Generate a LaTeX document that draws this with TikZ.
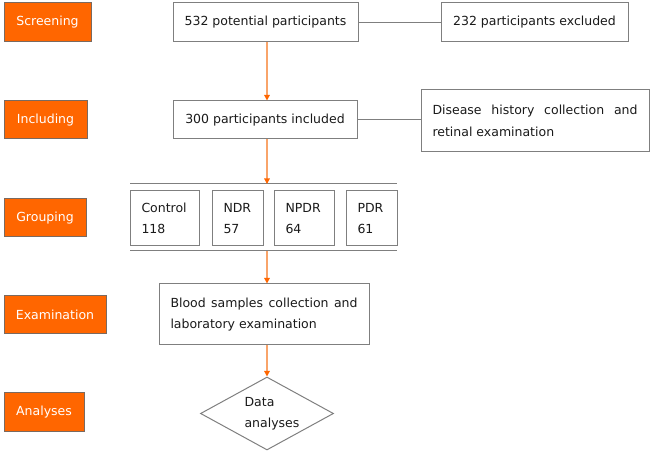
\documentclass[tikz,border=0pt]{standalone}
\usepackage{fontspec}
\setmainfont{DejaVu Sans}
\usetikzlibrary{shapes.geometric,arrows.meta}
\definecolor{stageorange}{HTML}{FF6600}
\definecolor{stageedge}{HTML}{7A6A60}
\definecolor{boxedge}{HTML}{7F7F7F}
\definecolor{txt}{HTML}{1A1A1A}
\definecolor{arrowline}{HTML}{F9A46A}
\tikzset{
  basefont/.style={font=\fontsize{12.5}{21.5}\selectfont},
  stage/.style={basefont, draw=stageedge, line width=1pt, fill=stageorange, text=white, inner sep=0pt},
  wbox/.style={basefont, draw=boxedge, line width=1pt, fill=white, text=txt, inner sep=0pt},
  gbox/.style={basefont, draw=boxedge, line width=1pt, fill=white, text=txt, align=left, inner xsep=11.5pt, inner ysep=0pt, minimum height=55pt},
  flow/.style={draw=arrowline, line width=1.3pt, -{Triangle[width=5.5pt,length=5.5pt,color=stageorange]}},
  plain/.style={draw=boxedge, line width=1pt},
}
\begin{document}
\begin{tikzpicture}[x=1pt,y=-1pt]
\useasboundingbox (0,0) rectangle (654,454);
% stage labels
\node[stage, minimum width=87pt, minimum height=39pt] (screening) at (47.5,22.5) {Screening};
\node[stage, minimum width=83pt, minimum height=38pt] (including) at (45.5,120) {Including};
\node[stage, minimum width=82pt, minimum height=38pt] (grouping) at (45,218) {Grouping};
\node[stage, minimum width=102pt, minimum height=38pt] (examination) at (55,315) {Examination};
\node[stage, minimum width=80pt, minimum height=39pt] (analyses) at (44,412.5) {Analyses};
% main boxes
\node[wbox, minimum width=185pt, minimum height=39pt] (potential) at (265.5,22.5) {532 potential participants};
\node[wbox, minimum width=187pt, minimum height=39pt] (excluded) at (534.5,22.5) {232 participants excluded};
\node[wbox, minimum width=184pt, minimum height=38pt] (included) at (265,120) {300 participants included};
\node[wbox, minimum width=228pt, minimum height=62pt, align=left] (history) at (535,121)
  {\makebox[205pt][s]{Disease history collection and}\\retinal examination};
% groups
\node[gbox, text width=46pt] (control) at (164.5,218.5) {Control\\118};
\node[gbox, text width=28pt] (ndr) at (237.5,218.5) {NDR\\57};
\node[gbox, text width=37pt] (npdr) at (304,218.5) {NPDR\\64};
\node[gbox, text width=28pt] (pdr) at (371.5,218.5) {PDR\\61};
\coordinate (gtl) at (130,184);
\coordinate (gtr) at (397,184);
\coordinate (gbl) at (130,251);
\coordinate (gbr) at (397,251);
\coordinate (gtin) at (267,184);
\coordinate (gbout) at (267,251);
\draw[plain] (gtl) -- (gtr);
\draw[plain] (gbl) -- (gbr);
% examination
\node[wbox, minimum width=210pt, minimum height=61pt, align=left] (blood) at (264,314.5)
  {\makebox[187pt][s]{Blood samples collection and}\\laboratory examination};
% data analyses
\node[draw=boxedge, line width=1pt, diamond, minimum width=133pt, minimum height=73pt, inner sep=0pt] (data) at (267,413.5) {};
\node[basefont, text=txt, align=left, inner sep=0pt] (datatext) at (272,413.5) {Data\\analyses};
% connectors
\draw[plain] (potential.east) -- (excluded.west);
\draw[plain] (included.east) -- (included.east -| history.west);
\draw[flow] (potential.south -| gtin) -- (included.north -| gtin);
\draw[flow] (included.south -| gtin) -- (gtin);
\draw[flow] (gbout) -- (blood.north -| gbout);
\draw[flow] (blood.south -| gbout) -- (data.north);
\end{tikzpicture}
\end{document}
